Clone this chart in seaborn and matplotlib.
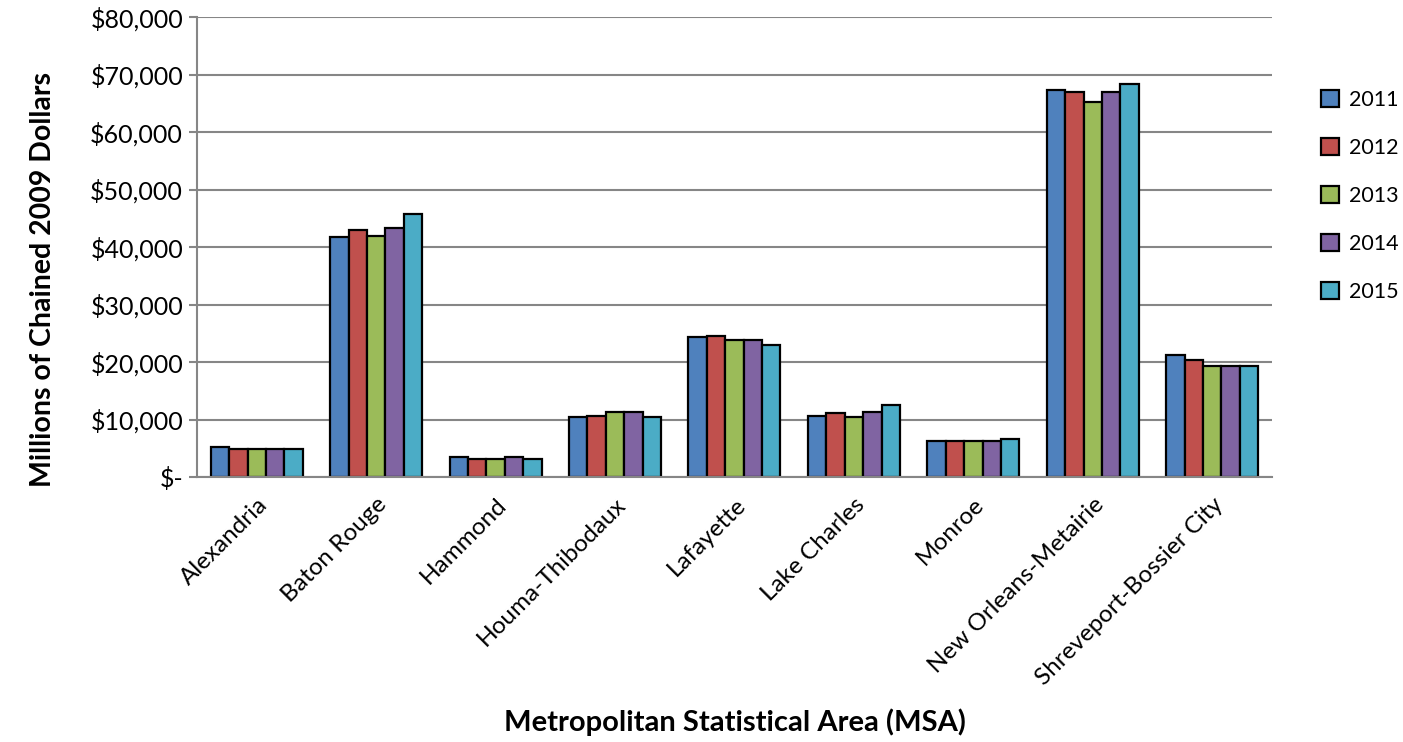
import numpy as np
import pandas as pd
import matplotlib
matplotlib.use("Agg")
import matplotlib.pyplot as plt
import seaborn as sns
from matplotlib.ticker import FixedLocator

areas = ["Alexandria", "Baton Rouge", "Hammond", "Houma-Thibodaux", "Lafayette",
         "Lake Charles", "Monroe", "New Orleans-Metairie", "Shreveport-Bossier City"]
years = ["2011", "2012", "2013", "2014", "2015"]
v2011 = [5200, 41700, 3500, 10400, 24350, 10700, 6300, 67350, 21150]
v2012 = [4900, 43000, 3200, 10700, 24600, 11100, 6200, 66950, 20400]
v2013 = [4900, 42000, 3200, 11400, 23900, 10400, 6200, 65200, 19400]
v2014 = [4900, 43400, 3500, 11400, 23900, 11400, 6200, 66950, 19400]
v2015 = [4900, 45800, 3200, 10400, 22900, 12500, 6600, 68400, 19400]
colors = ["#4F81BD", "#C0504D", "#9BBB59", "#8064A2", "#4BACC6"]
ytick_labels = ["$-", "$10,000", "$20,000", "$30,000", "$40,000",
                "$50,000", "$60,000", "$70,000", "$80,000"]

rows = []
for yr, vals in zip(years, [v2011, v2012, v2013, v2014, v2015]):
    for a, v in zip(areas, vals):
        rows.append({"area": a, "year": yr, "value": v})
df = pd.DataFrame(rows)

sns.set_style("white")
plt.rcParams['font.family'] = ['Lato', 'DejaVu Sans']
plt.rcParams['text.color'] = 'black'
plt.rcParams['axes.labelcolor'] = 'black'
plt.rcParams['xtick.labelcolor'] = 'black'
plt.rcParams['ytick.labelcolor'] = 'black'

fig = plt.figure(figsize=(14.03, 7.42), dpi=100)
ax = fig.add_axes([0.1404, 0.357, 0.7662, 0.620])

sns.barplot(data=df, x="area", y="value", hue="year", palette=colors, saturation=1,
            width=0.77, edgecolor="black", linewidth=1.6, ax=ax, legend=True)

ax.set_ylim(0, 80000)
ax.set_xlim(-0.5, len(areas) - 0.5)
ax.set_yticks(np.arange(0, 80001, 10000))
ax.set_yticklabels(ytick_labels, fontsize=18)
ax.yaxis.grid(True, color="#868686", linewidth=1.5)
ax.set_axisbelow(True)
for s in ["top", "right"]:
    ax.spines[s].set_visible(False)
for s in ["left", "bottom"]:
    ax.spines[s].set_color("#868686")
    ax.spines[s].set_linewidth(1.5)

ax.set_xticks(range(len(areas)))
ax.set_xticklabels(areas, rotation=45, ha="right", rotation_mode="anchor", fontsize=17.5)
ax.tick_params(axis="x", which="major", length=0, pad=12)
ax.xaxis.set_minor_locator(FixedLocator(np.arange(-0.5, len(areas), 1.0)))
ax.tick_params(axis="x", which="minor", length=6, color="#868686", width=1.5, direction="out")
ax.tick_params(axis="y", length=6, color="#868686", width=1.5, direction="out", left=True, pad=4)

ax.set_ylabel("Millions of Chained 2009 Dollars", fontsize=20.5, fontweight="bold")
ax.yaxis.set_label_coords(-0.143, 0.43)
ax.yaxis.label.set_va("center")
ax.set_xlabel("Metropolitan Statistical Area (MSA)", fontsize=21, fontweight="bold")
ax.xaxis.set_label_coords(0.5, -0.533)
ax.xaxis.label.set_va("center")

handles, labels = ax.get_legend_handles_labels()
ax.legend_.remove()
for h in handles:
    h.set_edgecolor("black")
fig.legend(handles, labels, loc="upper left", bbox_to_anchor=(0.928, 0.905),
           frameon=False, fontsize=15.5, labelspacing=1.3, handlelength=0.8,
           handleheight=0.8, handletextpad=0.5)

fig.savefig("out.png", dpi=100)
